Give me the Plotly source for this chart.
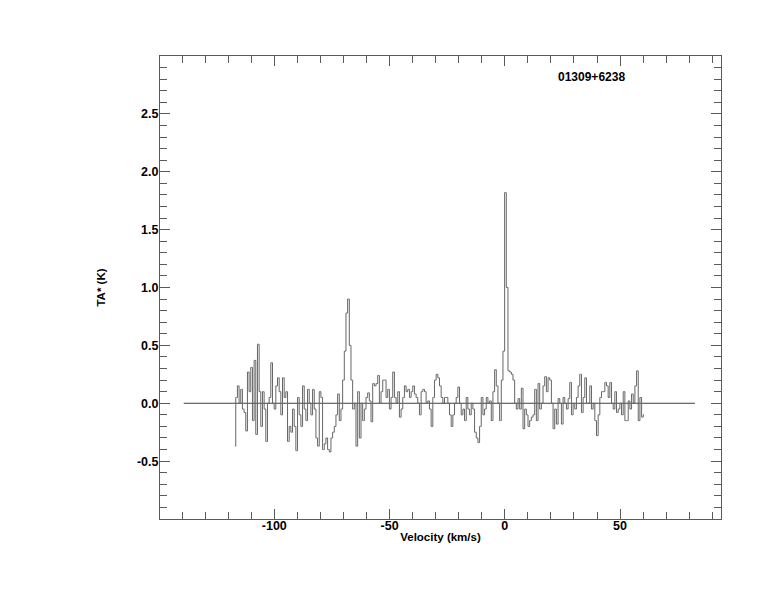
import numpy as np
import plotly.graph_objects as go

# ---- data ----
v_start = -117.1       # km/s, first channel centre
dv = 0.7246            # km/s channel width

ta_seg_a = [
    -0.37, 0.05, 0.15, 0.0, 0.12, -0.05, -0.08, -0.24, 0.27, 0.1,
    0.31, -0.15, 0.37, -0.27, 0.51, 0.1, -0.2, 0.1, -0.05, -0.33,
    0.0, 0.05, 0.35, 0.0, -0.05, 0.15, 0.22, 0.1, -0.1, 0.22,
    0.05, 0.1, -0.33, -0.2, -0.25, -0.05, -0.2, -0.41, 0.05, -0.1,
    -0.2, 0.15, -0.05, -0.15, 0.12, 0.0, -0.1, 0.12, -0.05, -0.3,
    -0.37, 0.1, 0.05, -0.4, -0.35, -0.3, -0.4, -0.42, -0.3, -0.25,
    -0.2, -0.1, 0.08, -0.15, -0.05, 0.2, 0.45, 0.78, 0.9, 0.5,
    0.2, -0.05, 0.0, -0.37, 0.1, -0.3, 0.0, -0.15, -0.05, 0.05,
    0.09, 0.02, -0.16, 0.17, 0.15, 0.17, 0.24, 0.0, 0.1, 0.2,
    0.2, 0.05, 0.12, -0.05, 0.05, 0.27, 0.05, 0.0, 0.1, -0.12,
]
ta_seg_b = [
    -0.05, 0.05, 0.15, 0.1, 0.12, 0.05, 0.1, 0.15, 0.08, 0.05,
    0.0, -0.1, 0.1, 0.12, 0.1, 0.0, 0.02, -0.05, -0.2, 0.05,
    0.2, 0.25, 0.22, 0.15, 0.05, 0.0, 0.05, 0.05, 0.0, -0.1,
    -0.2, -0.1, 0.0, 0.05, 0.14, 0.0, -0.1, -0.05, -0.15, 0.05,
    -0.05, -0.1, 0.0, -0.05, -0.25, -0.3, -0.34, -0.2, 0.05, -0.1,
    -0.05, 0.05, 0.0, 0.02, -0.15, 0.1, 0.29, 0.15, 0.0, -0.15,
]
ta_peak = [0.2, 0.45, 1.82, 1.0, 0.28, 0.27, 0.25, 0.2, 0.0]
ta_seg_d = [
    -0.05, 0.04, -0.05, 0.13, -0.22, -0.05, -0.1, -0.2, -0.15, -0.12,
    -0.1, 0.12, -0.15, 0.17, -0.05, 0.0, 0.15, 0.23, 0.1, 0.22,
    0.2, 0.0, -0.22, -0.05, -0.18, 0.04, 0.0, -0.18, 0.05, 0.0,
    -0.05, 0.04, 0.18, -0.1, 0.0, -0.05, 0.05, 0.15, 0.25, -0.08,
    0.05, 0.22, 0.0, 0.0, 0.15, -0.05, 0.0, -0.15, -0.28, -0.1,
    0.05, 0.1, 0.1, 0.18, 0.15, 0.05, 0.18, 0.0, -0.05, 0.1,
    -0.08, -0.05, 0.0, -0.1, 0.1, -0.15, -0.15, 0.02, -0.05, 0.08,
    0.0, 0.15, 0.28, -0.15, 0.05, -0.12, -0.1,
]
ta = ta_seg_a + ta_seg_b + ta_peak + ta_seg_d
velocity = v_start + dv * np.arange(len(ta))

baseline_x = [-139.3, 82.5]
baseline_y = [0.0, 0.0]

x_tickvals = [-100, -50, 0, 50]
x_ticktext = ["-100", "-50", "0", "50"]
y_tickvals = [-0.5, 0.0, 0.5, 1.0, 1.5, 2.0, 2.5]
y_ticktext = ["-0.5", "0.0", "0.5", "1.0", "1.5", "2.0", "2.5"]

source_name = "01309+6238"
x_title = "Velocity (km/s)"
y_title = "TA* (K)"
x_range = [-149.6, 93.8]
y_range = [-1.0, 3.0]

# ---- figure ----
axis_col = "#5a5a5a"
fnt = dict(family="Liberation Sans, Arial, sans-serif", size=12.5, color="#000000", weight="bold")

fig = go.Figure()
fig.add_trace(go.Scatter(x=baseline_x, y=baseline_y, mode="lines",
                         line=dict(color="#404040", width=1), hoverinfo="skip"))
fig.add_trace(go.Scatter(x=velocity, y=ta, mode="lines", line_shape="hvh",
                         line=dict(color="#666666", width=1)))

fig.add_annotation(x=37.5, y=2.82, xref="x", yref="y", text=source_name,
                   showarrow=False, font=dict(fnt, size=12))

fig.update_layout(
    width=766, height=604,
    margin=dict(l=152, r=53, t=48, b=93),
    paper_bgcolor="white", plot_bgcolor="white",
    showlegend=False,
    font=fnt,
)
fig.update_xaxes(
    range=x_range, showgrid=False, zeroline=False,
    showline=True, linecolor=axis_col, linewidth=1, mirror="ticks",
    ticks="inside", ticklen=10, tickcolor=axis_col, tickwidth=1,
    tickmode="array", tickvals=x_tickvals, ticktext=x_ticktext,
    minor=dict(ticks="inside", ticklen=7, tickcolor=axis_col, dtick=10, tick0=0, showgrid=False),
    tickfont=fnt, ticklabelstandoff=-5,
    title=dict(text=x_title, font=dict(fnt, size=11.5), standoff=0),
)
fig.update_yaxes(
    range=y_range, showgrid=False, zeroline=False,
    showline=True, linecolor=axis_col, linewidth=1, mirror="ticks",
    ticks="inside", ticklen=10, tickcolor=axis_col, tickwidth=1,
    tickmode="array", tickvals=y_tickvals, ticktext=y_ticktext,
    minor=dict(ticks="inside", ticklen=7, tickcolor=axis_col, dtick=0.1, tick0=0, showgrid=False),
    tickfont=fnt, ticklabelstandoff=-2,
    title=dict(text=y_title, font=dict(fnt, size=11.5), standoff=28),
)

fig.write_html("out.html")
